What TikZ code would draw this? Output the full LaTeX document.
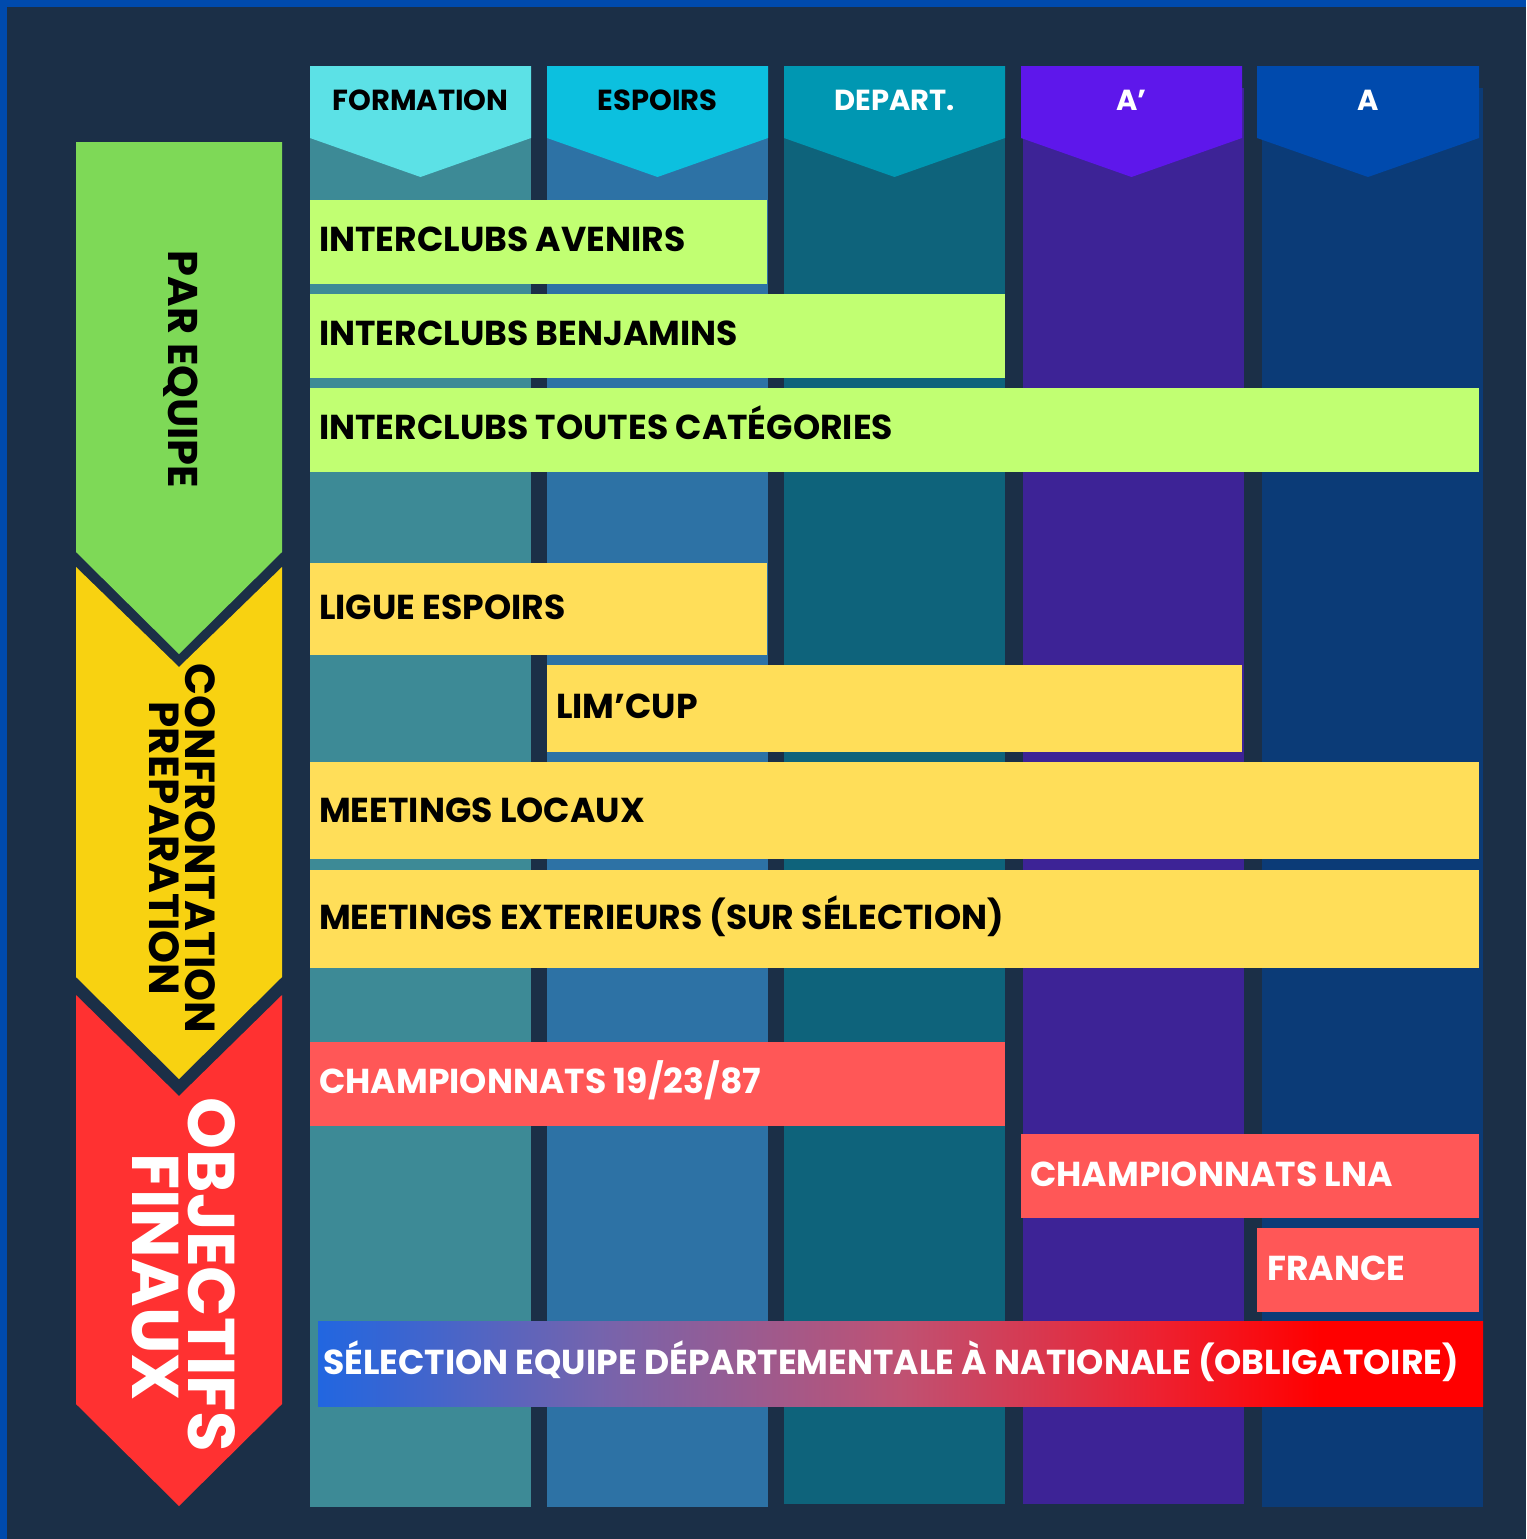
\documentclass[tikz,border=0pt]{standalone}
\usepackage{fontspec}
\setmainfont{Poppins}
\definecolor{bg}{HTML}{1B2F47}
\definecolor{frame}{HTML}{004AAD}
\definecolor{formH}{HTML}{5CE1E6}
\definecolor{formB}{HTML}{3D8A96}
\definecolor{espH}{HTML}{0CC0DF}
\definecolor{espB}{HTML}{2D72A5}
\definecolor{depH}{HTML}{0097B2}
\definecolor{depB}{HTML}{0E637B}
\definecolor{apH}{HTML}{5E17EB}
\definecolor{apB}{HTML}{3D2396}
\definecolor{aH}{HTML}{004AAD}
\definecolor{aB}{HTML}{0B3B77}
\definecolor{arrG}{HTML}{7ED957}
\definecolor{arrY}{HTML}{F8D211}
\definecolor{arrR}{HTML}{FF3131}
\definecolor{barG}{HTML}{C1FF72}
\definecolor{barY}{HTML}{FFDE59}
\definecolor{barR}{HTML}{FF5757}
\pgfdeclarehorizontalshading{selgrad}{100bp}{rgb(0bp)=(0.13,0.40,0.88); rgb(25bp)=(0.13,0.40,0.88); rgb(37.5bp)=(0.47,0.39,0.67); rgb(50bp)=(0.75,0.32,0.45); rgb(61bp)=(0.93,0.13,0.19); rgb(68bp)=(1,0,0); rgb(100bp)=(1,0,0)}
\tikzset{
  bartxt/.style={anchor=base west, inner sep=0pt, font=\fontsize{34.6}{40}\selectfont\bfseries},
  hdrtxt/.style={anchor=base, inner sep=0pt, font=\fontsize{29}{32}\selectfont\bfseries},
  sidetxt/.style={anchor=base, inner sep=0pt, rotate=-90, align=center},
  barbox/.style={anchor=north west, inner sep=0pt, draw=none}
}
\begin{document}
\begin{tikzpicture}[x=1pt,y=-1pt]
\useasboundingbox (0,0) rectangle (1526,1539);
\fill[bg] (0,0) rectangle (1526,1539);
\fill[frame] (0,0) rectangle (1526,7);
\fill[frame] (0,0) rectangle (7,1539);

% column bodies
\fill[formB] (310,88) rectangle (531,1507);
\fill[espB] (547,88) rectangle (768,1507);
\fill[depB] (784,88) rectangle (1005,1504);
\fill[apB] (1023,88) rectangle (1244,1504);
\fill[aB] (1262,88) rectangle (1483,1507);

% column headers
\fill[formH] (310,66) -- (531,66) -- (531,138) -- (420.5,177) -- (310,138) -- cycle;
\fill[espH] (547,66) -- (768,66) -- (768,138) -- (657.5,177) -- (547,138) -- cycle;
\fill[depH] (784,66) -- (1005,66) -- (1005,138) -- (894.5,177) -- (784,138) -- cycle;
\fill[apH] (1021,66) -- (1242,66) -- (1242,138) -- (1131.5,177) -- (1021,138) -- cycle;
\fill[aH] (1257,66) -- (1479,66) -- (1479,138) -- (1368,177) -- (1257,138) -- cycle;
\node[hdrtxt, text=black] (hForm) at (420.5,110) {FORMATION};
\node[hdrtxt, text=black] (hEsp) at (657.5,110) {ESPOIRS};
\node[hdrtxt, text=white] (hDep) at (894.5,110) {DEPART.};
\node[hdrtxt, text=white] (hAp) at (1131.5,110) {A’};
\node[hdrtxt, text=white] (hA) at (1368,110) {A};

% left arrows
\fill[arrR] (76,995) -- (179,1096) -- (282,995) -- (282,1404) -- (179,1506) -- (76,1404) -- cycle;
\fill[arrY] (76,567) -- (179,667) -- (282,567) -- (282,977) -- (179,1079) -- (76,977) -- cycle;
\fill[arrG] (76,142) -- (282,142) -- (282,552) -- (179,654) -- (76,552) -- cycle;
\node[sidetxt, font=\fontsize{41.5}{48}\selectfont\bfseries, text=black] (sPar) at (168,369.5) {PAR EQUIPE};
\node[sidetxt, font=\fontsize{42}{36}\selectfont\bfseries, text=black] (sConf) at (185,848.5) {CONFRONTATION};
\node[sidetxt, font=\fontsize{42}{36}\selectfont\bfseries, text=black] (sPrep) at (149,848.5) {PREPARATION};
\node[sidetxt, font=\fontsize{66}{60}\selectfont\bfseries, text=white] (sObj) at (188,1275) {OBJECTIFS};
\node[sidetxt, font=\fontsize{66}{60}\selectfont\bfseries, text=white] (sFin) at (132,1277) {FINAUX};

% bars
\node[barbox, fill=barG, minimum width=457pt, minimum height=84pt] (bAv) at (310,200) {};
\node[barbox, fill=barG, minimum width=695pt, minimum height=84pt] (bBen) at (310,294) {};
\node[barbox, fill=barG, minimum width=1169pt, minimum height=84pt] (bTout) at (310,388) {};
\node[barbox, fill=barY, minimum width=457pt, minimum height=92pt] (bLig) at (310,563) {};
\node[barbox, fill=barY, minimum width=695pt, minimum height=87pt] (bLim) at (547,665) {};
\node[barbox, fill=barY, minimum width=1169pt, minimum height=97pt] (bLoc) at (310,762) {};
\node[barbox, fill=barY, minimum width=1169pt, minimum height=98pt] (bExt) at (310,870) {};
\node[barbox, fill=barR, minimum width=695pt, minimum height=84pt] (bCh) at (310,1042) {};
\node[barbox, fill=barR, minimum width=458pt, minimum height=84pt] (bLna) at (1021,1134) {};
\node[barbox, fill=barR, minimum width=222pt, minimum height=84pt] (bFr) at (1257,1228) {};
\shade[shading=selgrad] (318,1321) rectangle (1483,1406);
\coordinate (bSel) at (318,1321);

\node[bartxt] (tAv) at (319,251) {INTERCLUBS AVENIRS};
\node[bartxt] (tBen) at (319,345) {INTERCLUBS BENJAMINS};
\node[bartxt] (tTout) at (319,439) {INTERCLUBS TOUTES CATÉGORIES};
\node[bartxt] (tLig) at (319,619) {LIGUE ESPOIRS};
\node[bartxt] (tLim) at (556,718) {LIM’CUP};
\node[bartxt] (tLoc) at (319,822) {MEETINGS LOCAUX};
\node[bartxt] (tExt) at (319,929) {MEETINGS EXTERIEURS (SUR SÉLECTION)};
\node[bartxt, text=white] (tCh) at (319,1093) {CHAMPIONNATS 19/23/87};
\node[bartxt, text=white] (tLna) at (1030,1186) {CHAMPIONNATS LNA};
\node[bartxt, text=white] (tFr) at (1267,1280) {FRANCE};
\node[bartxt, text=white] (tSel) at (323,1374) {SÉLECTION EQUIPE DÉPARTEMENTALE À NATIONALE (OBLIGATOIRE)};
\end{tikzpicture}
\end{document}
